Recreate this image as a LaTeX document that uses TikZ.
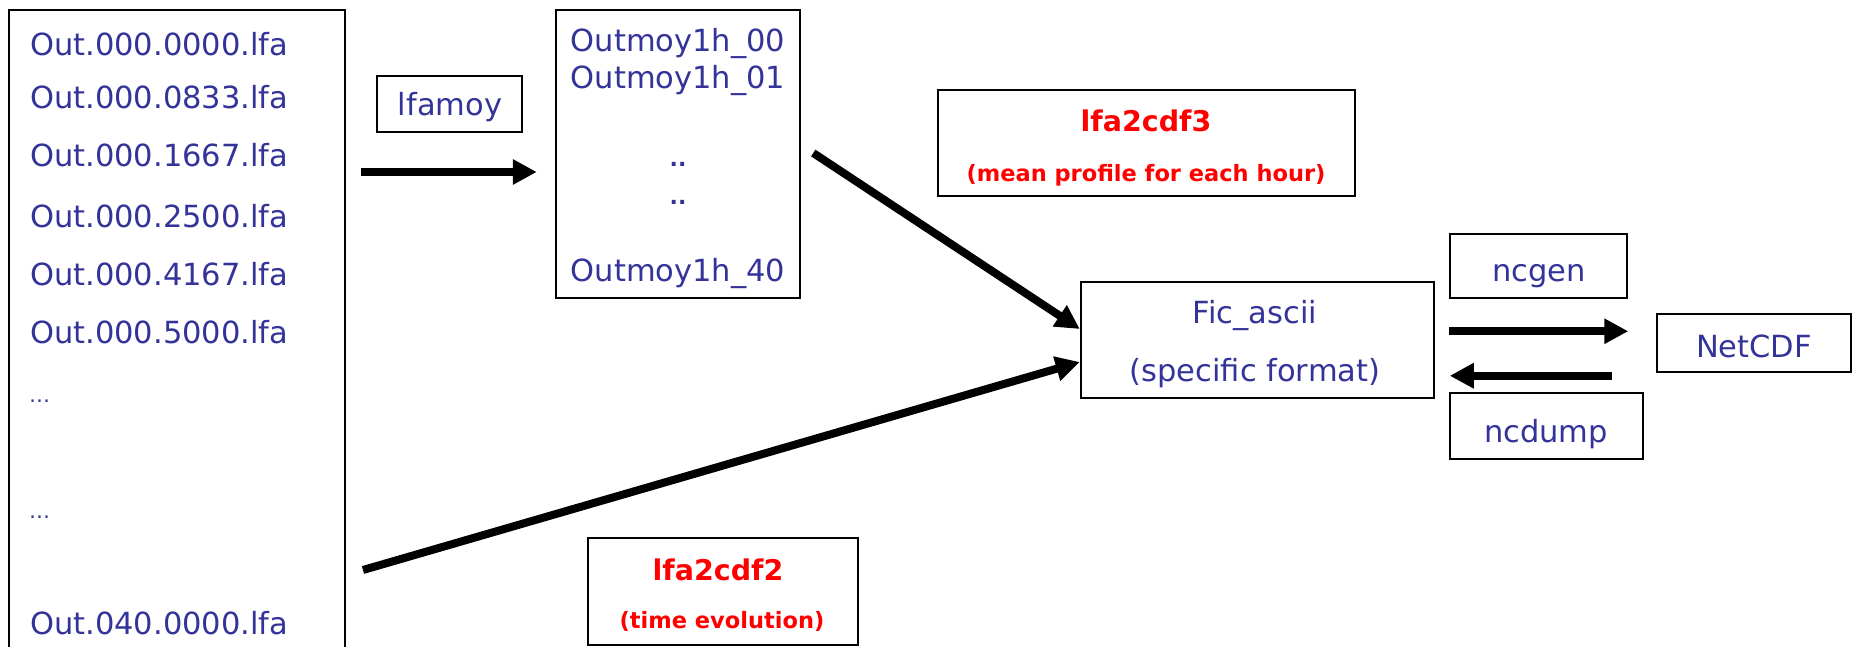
\documentclass[tikz,border=0pt]{standalone}
\usepackage{fontspec}
\setmainfont{DejaVu Sans}
\usetikzlibrary{arrows.meta, positioning, calc}
\definecolor{fileblue}{RGB}{51,51,153}
\definecolor{toolred}{RGB}{255,0,0}

\begin{document}
\begin{tikzpicture}[x=1pt, y=-1pt,
  box/.style={draw=black, line width=2.5pt, inner sep=0pt},
  bluetxt/.style={text=fileblue, font=\fontsize{30.5}{36}\selectfont, anchor=base, inner sep=0pt},
  redbig/.style={text=toolred, font=\bfseries\fontsize{28.5}{34}\selectfont, anchor=base, inner sep=0pt},
  redsmall/.style={text=toolred, font=\bfseries\fontsize{22.5}{27}\selectfont, anchor=base, inner sep=0pt},
  fatarrow/.style={line width=8pt, -{Triangle[length=24pt, width=24pt]}}]
  \useasboundingbox (0,0) rectangle (1855,647);

  % Input files
  \node[box, minimum width=336pt, minimum height=650pt] (files) at (177,335) {};
  \foreach \y/\name [count=\i] in {56/Out.000.0000.lfa, 109/Out.000.0833.lfa, 167/Out.000.1667.lfa,
      227/Out.000.2500.lfa, 285/Out.000.4167.lfa, 343/Out.000.5000.lfa, 634/Out.040.0000.lfa} {
    \node[bluetxt, anchor=base west] (file\i) at (30,\y) {\name};
  }
  \node[bluetxt, anchor=base west, font=\fontsize{21}{24}\selectfont] (dotsA) at (29,402) {…};
  \node[bluetxt, anchor=base west, font=\fontsize{21}{24}\selectfont] (dotsB) at (29,518) {…};

  % Hourly means
  \node[box, minimum width=145pt, minimum height=56pt] (lfamoy) at (449.5,104) {};
  \node[bluetxt] (lfamoy-t) at (450,116) {lfamoy};
  \node[box, minimum width=244pt, minimum height=288pt] (hourly) at (678,154) {};
  \foreach \y/\name [count=\i] in {52/Outmoy1h\_00, 89/Outmoy1h\_01, 281/Outmoy1h\_40} {
    \node[bluetxt] (hour\i) at (678,\y) {\name};
  }
  \node[bluetxt, font=\bfseries\fontsize{22}{24}\selectfont] (hdotsA) at (678,167) {..};
  \node[bluetxt, font=\bfseries\fontsize{22}{24}\selectfont] (hdotsB) at (678,205) {..};

  % Conversion tools
  \node[box, minimum width=417pt, minimum height=106pt] (cdfiii) at (1146.5,143) {};
  \node[redbig] (cdfiii-t) at (1146,132) {lfa2cdf3};
  \node[redsmall] (cdfiii-s) at (1146,182) {(mean profile for each hour)};

  \node[box, minimum width=270pt, minimum height=107pt] (cdfii) at (723,591.5) {};
  \node[redbig] (cdfii-t) at (718,580) {lfa2cdf2};
  \node[redsmall] (cdfii-s) at (722,628) {(time evolution)};

  % ASCII and NetCDF
  \node[box, minimum width=353pt, minimum height=116pt] (fic) at (1257.5,340) {};
  \node[bluetxt] (fic-t) at (1255,323) {Fic\_ascii};
  \node[bluetxt] (fic-s) at (1255,381) {(specific format)};

  \node[box, minimum width=177pt, minimum height=64pt] (ncgen) at (1538.5,266) {};
  \node[bluetxt] (ncgen-t) at (1539,281) {ncgen};
  \node[box, minimum width=193pt, minimum height=66pt] (ncdump) at (1546.5,426) {};
  \node[bluetxt] (ncdump-t) at (1546,442) {ncdump};
  \node[box, minimum width=194pt, minimum height=58pt] (netcdf) at (1754,343) {};
  \node[bluetxt] (netcdf-t) at (1754,357) {NetCDF};

  % Arrows
  \coordinate (moyStart) at (361,172);
  \coordinate (evoStart) at (363,570);
  \draw[fatarrow, shorten >=18pt] (moyStart) -- (hourly.west |- moyStart);
  \draw[fatarrow] ([xshift=12pt, yshift=1pt]hourly.east) -- ([yshift=11pt]fic.west);
  \draw[fatarrow] (evoStart) -- ([yshift=-22pt]fic.west);
  \draw[fatarrow] ([yshift=-32pt]ncgen.south west) -- ([yshift=-32pt]ncgen.south east);
  \draw[fatarrow] ([xshift=-32pt, yshift=16pt]ncdump.north east) -- ([xshift=1pt, yshift=16pt]ncdump.north west);
\end{tikzpicture}
\end{document}
